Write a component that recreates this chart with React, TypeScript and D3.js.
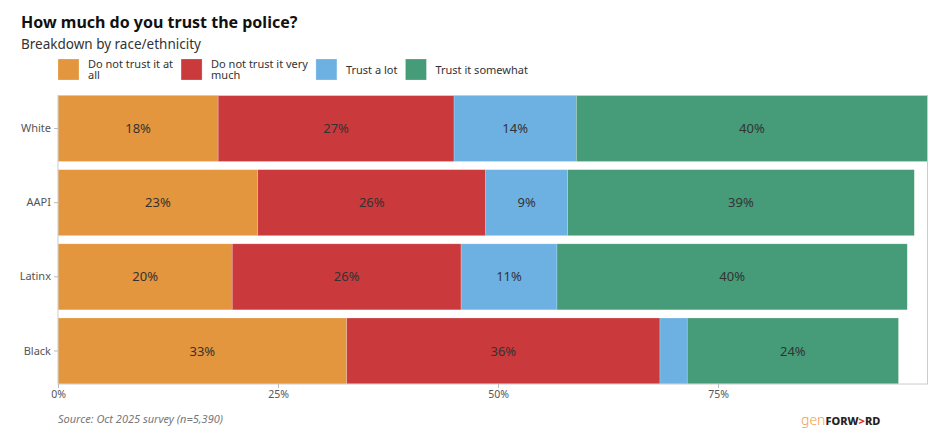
import { useRef, useEffect } from "react";
import * as d3 from "d3";

const groups = ["White", "AAPI", "Latinx", "Black"];
const categories = [
  "Do not trust it at all",
  "Do not trust it very much",
  "Trust a lot",
  "Trust it somewhat",
];
// legend labels as wrapped in the reference
const legendLines = [
  ["Do not trust it at", "all"],
  ["Do not trust it very", "much"],
  ["Trust a lot"],
  ["Trust it somewhat"],
];
const colors = ["#E3963D", "#CA393B", "#6DB1E3", "#469B78"];

// share per group, in category order
const notAtAll = [18.2, 22.7, 19.8, 32.8];
const notVeryMuch = [26.8, 25.9, 26.0, 35.6];
const trustALot = [13.9, 9.3, 10.9, 3.1];
const somewhat = [39.9, 39.4, 39.8, 24.0];

const xTicks = [0, 25, 50, 75];

const W = 938;
const H = 448;

export default function App() {
  const svgRef = useRef<SVGSVGElement>(null);

  useEffect(() => {
    if (!svgRef.current) return;
    const svg = d3.select(svgRef.current);
    svg.selectAll("*").remove();
    const font = "'Noto Sans', sans-serif";

    const series = [notAtAll, notVeryMuch, trustALot, somewhat];
    const rows = groups.map((g, i) => {
      let acc = 0;
      return {
        group: g,
        segs: series.map((s, k) => {
          const x0 = acc;
          acc += s[i];
          return { k, x0, x1: acc, v: s[i] };
        }),
        total: acc,
      };
    });

    const left = 58;
    const right = 927.5;
    const top = 95.5;
    const bottom = 384;

    const x = d3
      .scaleLinear()
      .domain([0, d3.max(rows, (r) => r.total) ?? 100])
      .range([left, right]);
    const y = d3
      .scaleBand<string>()
      .domain(groups)
      .range([top, bottom])
      .paddingInner(0.11)
      .paddingOuter(0);

    // Title
    svg.append("text")
      .attr("x", 21)
      .attr("y", 28)
      .attr("font-family", font)
      .attr("font-weight", 700)
      .attr("font-size", 16)
      .attr("fill", "#111")
      .text("How much do you trust the police?");
    svg.append("text")
      .attr("x", 21)
      .attr("y", 49)
      .attr("font-family", font)
      .attr("font-size", 13.5)
      .attr("fill", "#333")
      .text("Breakdown by race/ethnicity");

    // Legend
    const legend = svg.append("g");
    let lx = 58;
    categories.forEach((c, k) => {
      const item = legend.append("g")
        .attr("transform", `translate(${lx},59)`)
        .attr("aria-label", c);
      item.append("rect")
        .attr("width", 21)
        .attr("height", 21)
        .attr("fill", colors[k])
        .attr("stroke", "#fff")
        .attr("stroke-opacity", 0.4)
        .attr("stroke-width", 0.6);
      const t = item.append("text")
        .attr("font-family", font)
        .attr("font-size", 11)
        .attr("fill", "#333");
      const lines = legendLines[k];
      const baseY = lines.length === 1 ? 14.5 : 8.5;
      let maxW = 0;
      lines.forEach((l, i) => {
        const sp = t.append("tspan")
          .attr("x", 30)
          .attr("y", baseY + i * 11.5)
          .text(l);
        maxW = Math.max(maxW, (sp.node() as SVGTSpanElement).getComputedTextLength());
      });
      lx += 30 + maxW + 8;
    });

    // Bars
    const row = svg.append("g")
      .selectAll("g")
      .data(rows)
      .join("g");
    row.selectAll("rect")
      .data((r) => r.segs.map((s) => ({ ...s, group: r.group })))
      .join("rect")
      .attr("x", (d) => x(d.x0))
      .attr("width", (d) => x(d.x1) - x(d.x0))
      .attr("y", (d) => y(d.group)!)
      .attr("height", y.bandwidth())
      .attr("fill", (d) => colors[d.k])
      .attr("stroke", "#fff")
      .attr("stroke-opacity", 0.35)
      .attr("stroke-width", 0.6);
    row.selectAll("text")
      .data((r) => r.segs.filter((s) => s.v >= 5).map((s) => ({ ...s, group: r.group })))
      .join("text")
      .attr("x", (d) => (x(d.x0) + x(d.x1)) / 2)
      .attr("y", (d) => y(d.group)! + y.bandwidth() / 2)
      .attr("dy", "0.35em")
      .attr("text-anchor", "middle")
      .attr("font-family", font)
      .attr("font-size", 13)
      .attr("fill", "#333")
      .text((d) => `${Math.round(d.v)}%`);

    // Plot frame
    svg.append("rect")
      .attr("x", left)
      .attr("y", top)
      .attr("width", right - left)
      .attr("height", bottom - top)
      .attr("fill", "none")
      .attr("stroke", "#ccc")
      .attr("stroke-width", 1);

    // Y axis
    const yAxis = svg.append("g")
      .attr("transform", `translate(${left},0)`)
      .call(d3.axisLeft(y).tickSize(4).tickPadding(3));
    yAxis.select(".domain").remove();
    yAxis.selectAll("line").attr("stroke", "#bbb");
    yAxis.selectAll("text")
      .attr("font-family", font)
      .attr("font-size", 11)
      .attr("fill", "#555");

    // X axis
    const xAxis = svg.append("g")
      .attr("transform", `translate(0,${bottom})`)
      .call(
        d3.axisBottom(x)
          .tickValues(xTicks)
          .tickSize(4)
          .tickPadding(3)
          .tickFormat((d) => `${d}%`),
      );
    xAxis.select(".domain").remove();
    xAxis.selectAll("line").attr("stroke", "#bbb");
    xAxis.selectAll("text")
      .attr("font-family", font)
      .attr("font-size", 10.5)
      .attr("fill", "#555");

    // Source
    svg.append("text")
      .attr("x", 58)
      .attr("y", 423)
      .attr("font-family", font)
      .attr("font-style", "italic")
      .attr("font-size", 11)
      .attr("fill", "#777")
      .text("Source: Oct 2025 survey (n=5,390)");

    // Logo
    const logo = svg.append("text")
      .attr("x", 801)
      .attr("y", 425)
      .attr("font-family", font);
    logo.append("tspan")
      .attr("font-size", 14)
      .attr("font-weight", 300)
      .attr("fill", "#F0A04B")
      .text("gen");
    logo.append("tspan")
      .attr("font-size", 11)
      .attr("font-weight", 800)
      .attr("fill", "#222")
      .text("FORW");
    logo.append("tspan")
      .attr("font-size", 11)
      .attr("font-weight", 800)
      .attr("fill", "#D9342B")
      .text(">");
    logo.append("tspan")
      .attr("font-size", 11)
      .attr("font-weight", 800)
      .attr("fill", "#222")
      .text("RD");
  }, []);

  return (
    <div style={{ margin: -8, width: W, height: H, background: "#fff" }}>
      <svg ref={svgRef} width={W} height={H} style={{ display: "block" }} />
    </div>
  );
}
